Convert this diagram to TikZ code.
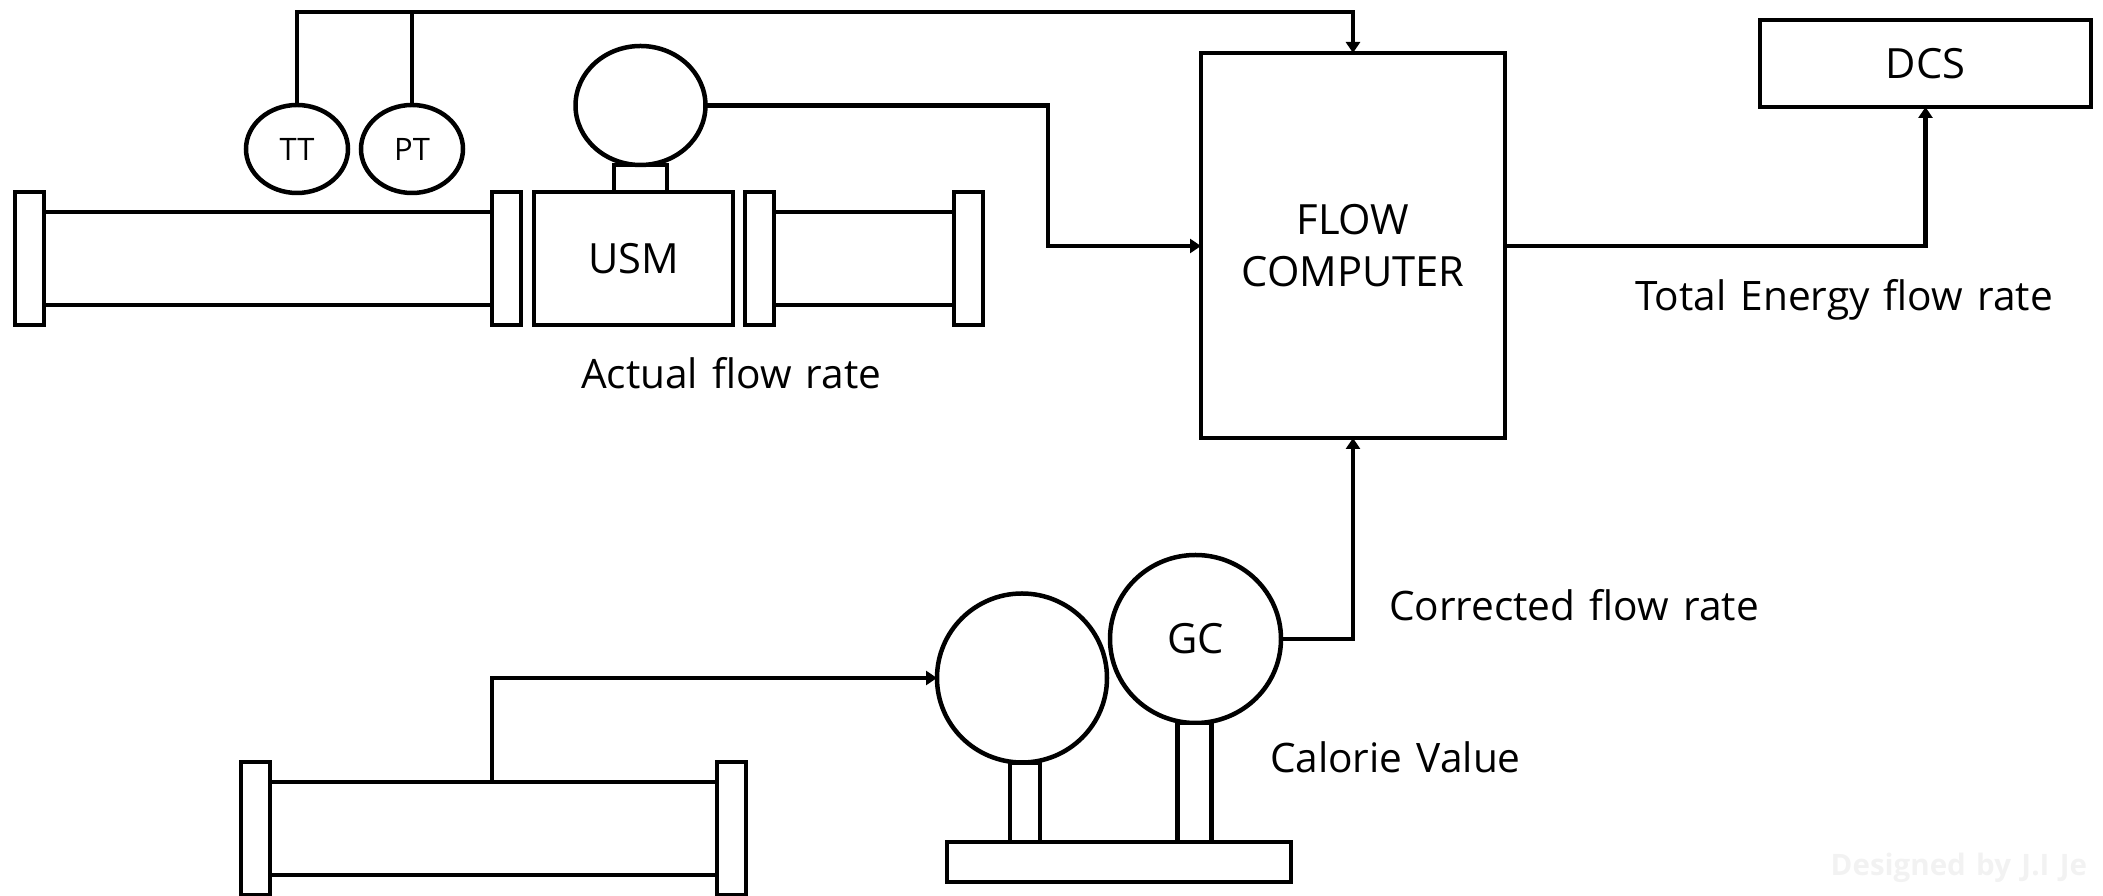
\documentclass[tikz,border=0pt]{standalone}
\usepackage{fontspec}
\setmainfont[WordSpace=1.35]{Open Sans}
\usepackage{tikz}
\usetikzlibrary{shapes.geometric, arrows.meta, positioning, calc}
\definecolor{wmgray}{RGB}{242,242,242}
\tikzset{
    unitbox/.style={rectangle, draw=black, line width=0.045cm, fill=white, outer sep=0pt, inner sep=0pt, align=center},
    flange/.style={unitbox, minimum width=0.29cm, minimum height=1.33cm},
    pipebody/.style={unitbox, minimum height=0.93cm},
    headround/.style={ellipse, draw=black, line width=0.045cm, fill=white, outer sep=0pt, inner sep=0pt, align=center},
    caption/.style={inner sep=0pt, outer sep=0pt, font=\fontsize{11.55}{14}\selectfont},
    boxfont/.style={font=\fontsize{11.85}{15}\selectfont},
    smallfont/.style={font=\fontsize{8.8}{10}\selectfont},
    signal/.style={black, line width=0.045cm, line join=miter},
    signalarrow/.style={signal, -{Triangle[length=0.11cm, width=0.14cm]}},
    watermark/.style={inner sep=0pt, text=wmgray, font=\fontsize{8.4}{10}\selectfont\bfseries},
}
\begin{document}
\begin{tikzpicture}
\useasboundingbox (0,0) rectangle (21.03,-8.96);

% Upstream pipe run with the meter body
\node[pipebody, minimum width=4.65cm, anchor=north west] (run-a) at (0.29,-2.12) {};
\node[flange, anchor=north east] (flange-a) at (0.44,-1.92) {};
\node[flange, right=4.48cm of flange-a] (flange-b) {};
\node[unitbox, boxfont, minimum width=1.99cm, minimum height=1.33cm, right=0.13cm of flange-b, text depth=0pt] (usm) {USM};
\node[unitbox, minimum width=0.53cm, minimum height=0.27cm, anchor=south, xshift=0.07cm] (usm-neck) at (usm.north) {};
\node[headround, minimum width=1.30cm, minimum height=1.19cm, anchor=south] (usm-head) at (usm-neck.north) {};
\node[pipebody, minimum width=2.20cm, right=0.12cm of usm] (run-b) {};
\node[flange, right=0.12cm of usm] (flange-c) {};
\node[flange, right=1.80cm of flange-c] (flange-d) {};

% Transmitters
\node[headround, smallfont, minimum width=1.02cm, minimum height=0.88cm] (tt) at (2.97,-1.49) {TT};
\node[headround, smallfont, minimum width=1.02cm, minimum height=0.88cm, right=0.13cm of tt] (pt) {PT};

% Computer and DCS
\node[unitbox, boxfont, minimum width=3.04cm, minimum height=3.85cm, anchor=north west] (computer) at (12.01,-0.53) {FLOW\\COMPUTER};
\node[unitbox, boxfont, minimum width=3.31cm, minimum height=0.87cm, anchor=north west] (dcs) at (17.60,-0.20) {DCS};

% Sample pipe run
\node[pipebody, minimum width=4.65cm, anchor=north west] (run-c) at (2.55,-7.82) {};
\node[flange, anchor=north east] (flange-e) at (2.70,-7.62) {};
\node[flange, right=4.47cm of flange-e] (flange-f) {};

% Analyser stand
\node[headround, minimum width=1.70cm, minimum height=1.69cm] (sampler) at (10.22,-6.78) {};
\node[headround, boxfont, minimum width=1.71cm, minimum height=1.68cm] (gc) at (11.955,-6.39) {GC};
\node[unitbox, minimum width=0.30cm, minimum height=0.80cm, anchor=north, xshift=0.03cm] (sampler-neck) at (sampler.south) {};
\node[unitbox, minimum width=0.34cm, minimum height=1.19cm, anchor=north, xshift=-0.01cm] (gc-neck) at (gc.south) {};
\node[unitbox, minimum width=3.44cm, minimum height=0.40cm, anchor=north west] (stand) at (9.47,-8.42) {};

% Captions
\node[caption, anchor=west] (actual-label) at (5.81,-3.73) {Actual flow rate};
\node[caption, anchor=west] (total-label) at (16.35,-3.00) {Total Energy flow rate};
\node[caption, anchor=west] (corrected-label) at (13.89,-6.05) {Corrected flow rate};
\node[caption, anchor=west] (calorie-label) at (12.70,-7.57) {Calorie Value};
\node[watermark, anchor=west] (wm-a) at (18.30,-8.68) {Designed by J.I Je};

% Signal lines
\coordinate (bus-corner) at (tt.north |- 0,-0.12);
\draw[signalarrow] (tt.north) -- (bus-corner) -| (computer.north);
\draw[signal] (pt.north) -- (pt.north |- bus-corner);
\coordinate (usm-bend) at (10.48,-2.46);
\draw[signalarrow] (usm-head.east) -| (usm-bend) -- (computer.west |- usm-bend);
\draw[signalarrow] (computer.east |- usm-bend) -| (dcs.south);
\draw[signalarrow] (gc.east) -| (computer.south);
\coordinate (tap) at (4.92,-7.82);
\draw[signalarrow] (tap) |- (sampler.west);
\end{tikzpicture}
\end{document}
